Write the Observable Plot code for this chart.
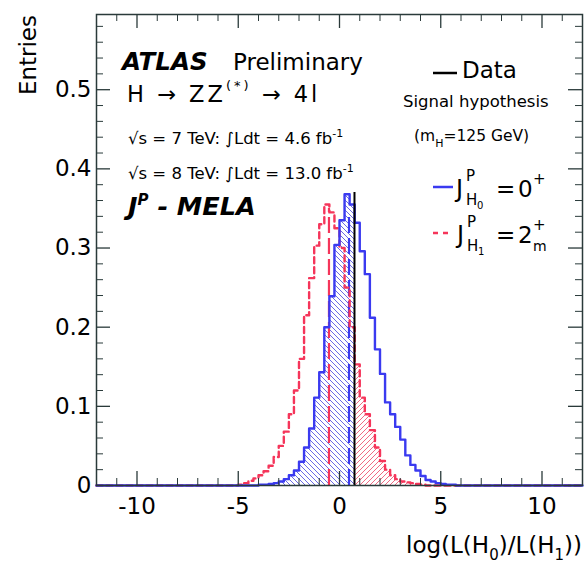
<!DOCTYPE html>
<html><head><meta charset="utf-8">
<script src="https://cdn.jsdelivr.net/npm/d3@7"></script>
<script src="https://cdn.jsdelivr.net/npm/@observablehq/plot@0.6"></script>
<style>body{margin:0;background:#fff}#chart{width:584px;height:566px}</style>
</head><body><div id="chart"></div>
<script>
// ---- data ----
const binLow = [-5.0,-4.75,-4.5,-4.25,-4.0,-3.75,-3.5,-3.25,-3.0,-2.75,-2.5,-2.25,-2.0,-1.75,-1.5,-1.25,-1.0,-0.75,-0.5,-0.25,
  0.0,0.25,0.5,0.75,1.0,1.25,1.5,1.75,2.0,2.25,2.5,2.75,3.0,3.25,3.5,3.75,4.0,4.25,4.5,4.75,5.0,5.25,5.5];
const binWidth = 0.25;
// J^P_H0 = 0+ (blue)
const h0Values = [0,0,0,0,0.001,0.001,0.002,0.003,0.005,0.008,0.013,0.019,0.030,0.048,0.072,0.111,0.143,0.200,0.239,0.304,
  0.335,0.368,0.355,0.332,0.296,0.267,0.212,0.172,0.141,0.105,0.090,0.074,0.058,0.038,0.026,0.019,0.012,0.007,0.005,0.003,0.002,0.001,0.001];
// J^P_H1 = 2+m (red)
const h1Values = [0.001,0.003,0.006,0.009,0.013,0.018,0.025,0.036,0.050,0.068,0.090,0.120,0.160,0.215,0.262,0.303,0.330,0.355,0.345,0.325,
  0.300,0.250,0.200,0.153,0.111,0.090,0.070,0.048,0.031,0.020,0.013,0.008,0.005,0.004,0.003,0.002,0.001,0,0,0,0,0,0];
const dataObs = [0.74];
const dataTop = [0.37];
const medianX = [0.47, -0.52];
const medianTop = [0.34, 0.35];
const xDomain = [-12, 12];
const yDomain = [0, 0.595];
const xTicksMajor = [-10, -5, 0, 5, 10];
const xTicksMinor = [-12,-11,-9,-8,-7,-6,-4,-3,-2,-1,1,2,3,4,6,7,8,9,11,12];
const yTicksMajor = [0, 0.1, 0.2, 0.3, 0.4, 0.5];
const yTicksMinor = [0.02,0.04,0.06,0.08,0.12,0.14,0.16,0.18,0.22,0.24,0.26,0.28,0.32,0.34,0.36,0.38,0.42,0.44,0.46,0.48,0.52,0.54,0.56,0.58];

const BLUE = "#3a3af0", RED = "#f5355a";
const W = 584, H = 566, mL = 96, mR = 2, mT = 14, mB = 81;
const fw = W - mL - mR, fh = H - mT - mB;

function stepPoints(vals) {
  const pts = [{x: xDomain[0], y: 0}, {x: binLow[0], y: 0}];
  vals.forEach((v, i) => { pts.push({x: binLow[i], y: v}, {x: binLow[i] + binWidth, y: v}); });
  pts.push({x: binLow[binLow.length - 1] + binWidth, y: 0}, {x: xDomain[1], y: 0});
  return pts;
}
function clipPoints(vals, lo, hi) {
  const pts = [];
  vals.forEach((v, i) => {
    const a = Math.max(binLow[i], lo), b = Math.min(binLow[i] + binWidth, hi);
    if (b > a) pts.push({x: a, y: v}, {x: b, y: v});
  });
  return pts;
}
const medians = medianX.map((x, i) => ({x, top: medianTop[i], c: i === 0 ? BLUE : RED}));

const tickC = "#2a3a3a";
const svg0 = Plot.plot({
  width: W, height: H, marginLeft: mL, marginRight: mR, marginTop: mT, marginBottom: mB,
  style: {fontFamily: "DejaVu Sans", background: "white", color: "black"},
  x: {domain: xDomain},
  y: {domain: yDomain},
  marks: [
    Plot.areaY(clipPoints(h0Values, xDomain[0], dataObs[0]), {x: "x", y1: 0, y2: "y", fill: "url(#hatchBlue)"}),
    Plot.areaY(clipPoints(h1Values, dataObs[0], xDomain[1]), {x: "x", y1: 0, y2: "y", fill: "url(#hatchRed)"}),
    Plot.ruleX(medians, {x: "x", y1: 0, y2: "top", stroke: "c", strokeWidth: 2.2, strokeDasharray: "16,5"}),
    Plot.line(stepPoints(h1Values), {x: "x", y: "y", stroke: RED, strokeWidth: 2.4, strokeDasharray: "6,4"}),
    Plot.line(stepPoints(h0Values), {x: "x", y: "y", stroke: BLUE, strokeWidth: 2.4}),
    Plot.ruleX(dataObs, {x: d => d, y1: 0, y2: dataTop[0], stroke: "black", strokeWidth: 2}),
    Plot.frame({stroke: tickC, strokeWidth: 1.5}),
    Plot.tickX(xTicksMajor, {x: d => d, insetTop: fh - 14, stroke: tickC, strokeWidth: 1.3}),
    Plot.tickX(xTicksMajor, {x: d => d, insetBottom: fh - 14, stroke: tickC, strokeWidth: 1.3}),
    Plot.tickX(xTicksMinor, {x: d => d, insetTop: fh - 7, stroke: tickC, strokeWidth: 1}),
    Plot.tickX(xTicksMinor, {x: d => d, insetBottom: fh - 7, stroke: tickC, strokeWidth: 1}),
    Plot.tickY(yTicksMajor, {y: d => d, insetRight: fw - 14, stroke: tickC, strokeWidth: 1.3}),
    Plot.tickY(yTicksMajor, {y: d => d, insetLeft: fw - 14, stroke: tickC, strokeWidth: 1.3}),
    Plot.tickY(yTicksMinor, {y: d => d, insetRight: fw - 7, stroke: tickC, strokeWidth: 1}),
    Plot.tickY(yTicksMinor, {y: d => d, insetLeft: fw - 7, stroke: tickC, strokeWidth: 1}),
    Plot.axisX(xTicksMajor, {tickSize: 0, tickPadding: 12, fontSize: 23, tickFormat: d => String(d), label: null}),
    Plot.axisY(yTicksMajor, {tickSize: 0, tickPadding: 5, fontSize: 23, tickFormat: d => d === 0 ? "0" : d.toFixed(1), label: null})
  ]
});
document.getElementById("chart").appendChild(svg0);

const svg = d3.select(svg0);
const defs = svg.insert("defs", ":first-child");
const pb = defs.append("pattern").attr("id", "hatchBlue").attr("patternUnits", "userSpaceOnUse").attr("width", 5).attr("height", 5);
pb.append("path").attr("d", "M-1,-1 L6,6 M-1,4 L1,6 M4,-1 L6,1").attr("stroke", "#6a6ae6").attr("stroke-width", 1);
const pr = defs.append("pattern").attr("id", "hatchRed").attr("patternUnits", "userSpaceOnUse").attr("width", 5).attr("height", 5);
pr.append("path").attr("d", "M-1,6 L6,-1 M-1,1 L1,-1 M4,6 L6,4").attr("stroke", "#f06a84").attr("stroke-width", 1);

const g = svg.append("g").attr("font-family", "DejaVu Sans").attr("fill", "black");
function rich(x, y, parts, base = {}) {
  const t = g.append("text").attr("x", x).attr("y", y)
    .attr("font-size", base.size || 23).attr("font-weight", base.weight || "normal")
    .attr("font-style", base.style || "normal").attr("text-anchor", base.anchor || "start");
  if (base.transform) t.attr("transform", base.transform);
  if (base.spacing) t.attr("letter-spacing", base.spacing);
  let cur = 0;
  parts.forEach(p => {
    const s = p.shift || 0;
    const ts = t.append("tspan").attr("dy", s - cur).text(p.t);
    if (p.size) ts.attr("font-size", p.size);
    cur = s;
  });
  return t;
}
function line(x1, y1, x2, y2, c, dash) {
  const l = g.append("line").attr("x1", x1).attr("y1", y1).attr("x2", x2).attr("y2", y2)
    .attr("stroke", c).attr("stroke-width", 2.5);
  if (dash) l.attr("stroke-dasharray", dash);
}

// axis titles
rich(0, 0, [{t: "Entries"}], {size: 23, anchor: "end", transform: "translate(36,15) rotate(-90)"});
rich(582, 553, [{t: "log(L(H"}, {t: "0", size: 15, shift: 7}, {t: ")/L(H", shift: 0}, {t: "1", size: 15, shift: 7}, {t: "))", shift: 0}], {size: 23, anchor: "end"});

// left annotations
rich(122, 70, [{t: "ATLAS"}], {size: 24.5, weight: "bold", style: "italic"});
rich(233, 70, [{t: "Preliminary"}], {size: 23});
rich(127, 102, [{t: "H → ZZ"}, {t: "(*)", size: 13, shift: -12}, {t: " → 4l", shift: 0}], {size: 22.5, spacing: 3});
rich(128, 144, [{t: "√s = 7 TeV: ∫Ldt = 4.6 fb"}, {t: "-1", size: 11, shift: -7}], {size: 16.5});
rich(128, 179, [{t: "√s = 8 TeV: ∫Ldt = 13.0 fb"}, {t: "-1", size: 11, shift: -7}], {size: 16.5});
rich(128, 215, [{t: "J"}, {t: "P", size: 15, shift: -10}, {t: " - MELA", shift: 0}], {size: 25.5, weight: "bold", style: "italic"});

// right legend
line(433, 73, 457, 73, "black");
rich(462, 78, [{t: "Data"}], {size: 23});
rich(403, 107, [{t: "Signal hypothesis"}], {size: 16.5});
rich(414, 141, [{t: "(m"}, {t: "H", size: 11, shift: 6}, {t: "=125 GeV)", shift: 0}], {size: 15.5});
line(433, 187, 453, 187, BLUE);
rich(456, 197, [{t: "J"}], {size: 24});
rich(466, 181, [{t: "P"}], {size: 15});
rich(466, 205, [{t: "H"}], {size: 15});
rich(477, 209, [{t: "0"}], {size: 10});
rich(496, 197, [{t: "="}], {size: 23});
rich(518, 197, [{t: "0"}], {size: 23});
rich(533, 184, [{t: "+"}], {size: 15});
line(433, 233, 453, 233, RED, "5,5");
rich(457, 243, [{t: "J"}], {size: 24});
rich(467, 227, [{t: "P"}], {size: 15});
rich(467, 251, [{t: "H"}], {size: 15});
rich(478, 255, [{t: "1"}], {size: 10});
rich(496, 243, [{t: "="}], {size: 23});
rich(518, 243, [{t: "2"}], {size: 23});
rich(533, 230, [{t: "+"}], {size: 15});
rich(533, 251, [{t: "m"}], {size: 14});
</script></body></html>
